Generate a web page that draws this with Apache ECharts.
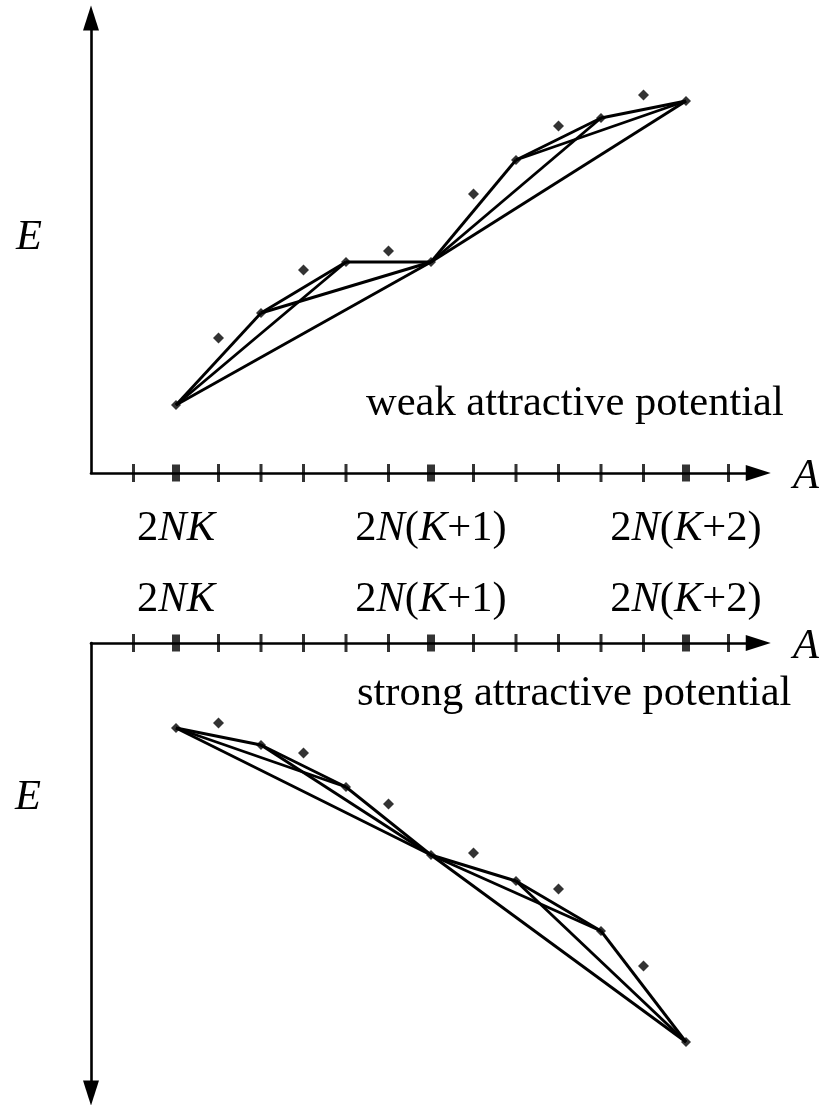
<!DOCTYPE html>
<html>
<head>
<meta charset="utf-8">
<script src="https://cdn.jsdelivr.net/npm/echarts@6/dist/echarts.min.js"></script>
<style>
  html, body { margin: 0; padding: 0; background: #fff; }
  #chart { width: 836px; height: 1105px; }
</style>
</head>
<body>
<div id="chart"></div>
<script>
// Particle number A in tick units: 0 = 2NK, 6 = 2N(K+1), 12 = 2N(K+2)
const nodeA = [0, 2, 4, 6, 8, 10, 12];
const midA = [1, 3, 5, 7, 9, 11];
const tickA = [-1, 0, 1, 2, 3, 4, 5, 6, 7, 8, 9, 10, 11, 12, 13];
const majorTickA = [0, 6, 12];

// Energies (arbitrary units)
const weakNodeE = [68, 160, 211, 211, 313, 355, 372];
const weakMidE = [135, 203, 222, 279, 347, 378];
const strongNodeE = [-85, -102, -144, -212, -238, -288, -399];
const strongMidE = [-80, -110, -161, -210, -246, -323];

// Node indices belonging to one shell period; every pair inside a group is joined
const shellGroups = [[0, 1, 2, 3], [3, 4, 5, 6]];

const FONT = 'Liberation Serif';
const FS = 42.5;

function tickLabel(v) {
  if (v === 0) return '{r|2}{i|NK}';
  if (v === 6) return '{r|2}{i|N}{r|(}{i|K}{r|+1)}';
  if (v === 12) return '{r|2}{i|N}{r|(}{i|K}{r|+2)}';
  return '';
}
const rich = {
  r: { fontFamily: FONT, fontSize: FS, color: '#000' },
  i: { fontFamily: FONT, fontSize: FS, fontStyle: 'italic', color: '#000' }
};

function makeXAxis(gridIndex, position, margin) {
  return {
    type: 'value', gridIndex, position,
    min: -2, max: 13.7, interval: 1,
    axisLine: {
      show: true, onZero: false,
      lineStyle: { color: '#000', width: 2.6 },
      symbol: ['none', 'triangle'], symbolSize: [16, 25]
    },
    axisTick: { show: false },
    splitLine: { show: false },
    axisLabel: {
      show: true, margin, formatter: tickLabel, rich,
      showMinLabel: true, showMaxLabel: false, hideOverlap: false
    }
  };
}
function makeYAxis(gridIndex, min, max, symbol) {
  return {
    type: 'value', gridIndex, min, max,
    axisLine: {
      show: true, onZero: false,
      lineStyle: { color: '#000', width: 2.6 },
      symbol, symbolSize: [16, 25]
    },
    axisTick: { show: false },
    axisLabel: { show: false },
    splitLine: { show: false }
  };
}

function panelSeries(gi, nodeE, midE) {
  const out = [];
  shellGroups.forEach(g => {
    for (let a = 0; a < g.length; a++) {
      for (let b = a + 1; b < g.length; b++) {
        out.push({
          type: 'line', xAxisIndex: gi, yAxisIndex: gi, clip: false,
          showSymbol: false, silent: true, animation: false,
          lineStyle: { color: '#000', width: 2.9 },
          data: [[nodeA[g[a]], nodeE[g[a]]], [nodeA[g[b]], nodeE[g[b]]]]
        });
      }
    }
  });
  out.push({
    type: 'scatter', xAxisIndex: gi, yAxisIndex: gi, clip: false,
    symbol: 'diamond', symbolSize: 10, animation: false,
    itemStyle: { color: '#000' }, z: 5,
    data: nodeA.map((a, i) => [a, nodeE[i]])
  });
  out.push({
    type: 'scatter', xAxisIndex: gi, yAxisIndex: gi, clip: false,
    symbol: 'diamond', symbolSize: 11, animation: false,
    itemStyle: { color: '#000' }, z: 5,
    data: midA.map((a, i) => [a, midE[i]])
  });
  // axis ticks crossing the A axis
  out.push({
    type: 'scatter', xAxisIndex: gi, yAxisIndex: gi, clip: false,
    symbol: 'rect', symbolSize: [3, 18], animation: false,
    itemStyle: { color: '#000' }, z: 4,
    data: tickA.filter(a => majorTickA.indexOf(a) < 0).map(a => [a, 0])
  });
  out.push({
    type: 'scatter', xAxisIndex: gi, yAxisIndex: gi, clip: false,
    symbol: 'rect', symbolSize: [8, 17], animation: false,
    itemStyle: { color: '#000' }, z: 4,
    data: majorTickA.map(a => [a, 0])
  });
  return out;
}

function txt(x, y, text, italic, align) {
  return {
    type: 'text', x, y, silent: true,
    style: {
      text, fill: '#000', font: (italic ? 'italic ' : '') + FS + 'px "' + FONT + '"',
      textAlign: align || 'center', textVerticalAlign: 'middle'
    }
  };
}

const chart = echarts.init(document.getElementById('chart'), null, { renderer: 'canvas' });
chart.setOption({
  backgroundColor: '#fff',
  animation: false,
  grid: [
    { left: 91, right: 77.75, top: 18, height: 455 },
    { left: 91, right: 77.75, top: 643, height: 450 }
  ],
  xAxis: [makeXAxis(0, 'bottom', 34), makeXAxis(1, 'top', 22)],
  yAxis: [
    makeYAxis(0, 0, 455, ['none', 'triangle']),
    makeYAxis(1, -450, 0, ['triangle', 'none'])
  ],
  series: panelSeries(0, weakNodeE, weakMidE).concat(panelSeries(1, strongNodeE, strongMidE)),
  graphic: [
    txt(29, 238, 'E', true),
    txt(28, 798, 'E', true),
    txt(806, 477, 'A', true),
    txt(806, 647, 'A', true),
    txt(366, 404, 'weak attractive potential', false, 'left'),
    txt(357, 694, 'strong attractive potential', false, 'left')
  ]
});
</script>
</body>
</html>
